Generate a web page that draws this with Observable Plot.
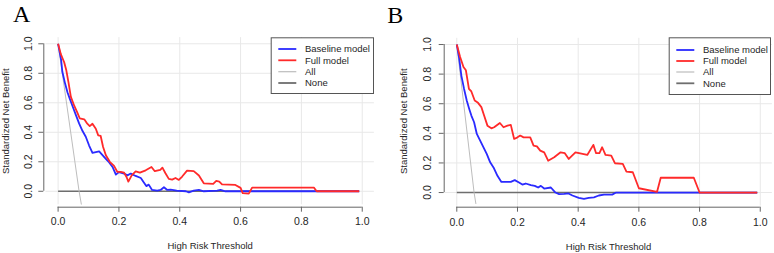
<!DOCTYPE html>
<html>
<head>
<meta charset="utf-8">
<script src="https://cdn.jsdelivr.net/npm/d3@7"></script>
<script src="https://cdn.jsdelivr.net/npm/@observablehq/plot@0.6"></script>
<style>
  html, body { margin: 0; padding: 0; background: #fff; }
  #wrap { position: relative; width: 774px; height: 253px; display: flex; }
  .panel { position: relative; width: 387px; height: 253px; }
  .panel svg { display: block; }
  #overlay { position: absolute; left: 0; top: 0; pointer-events: none; }
</style>
</head>
<body>
<div id="wrap">
  <div class="panel" id="panelA"></div>
  <div class="panel" id="panelB"></div>
  <svg id="overlay" width="774" height="253"></svg>
</div>
<script>
// Decision curves: standardized net benefit against the high-risk threshold.
const xTicks = [0, 0.2, 0.4, 0.6, 0.8, 1.0];
const yTicks = [0, 0.2, 0.4, 0.6, 0.8, 1.0];
const xTitle = "High Risk Threshold";
const yTitle = "Standardized Net Benefit";
const seriesNames = ["Baseline model", "Full model", "All", "None"];
const panelTags = ["A", "B"];

// Panel A
const thresholdA_baseline = [0, 0.01, 0.014, 0.023, 0.031, 0.038, 0.047, 0.058, 0.069, 0.08, 0.091, 0.102, 0.113, 0.124, 0.135, 0.146, 0.157, 0.168, 0.179, 0.19, 0.2, 0.217, 0.228, 0.239, 0.255, 0.272, 0.282, 0.29, 0.298, 0.309, 0.326, 0.337, 0.348, 0.359, 0.37, 0.39, 0.42, 0.43, 0.446, 0.463, 0.479, 0.523, 0.534, 0.55, 0.99];
const benefitA_baseline   = [1, 0.89, 0.81, 0.73, 0.67, 0.63, 0.58, 0.52, 0.46, 0.41, 0.37, 0.31, 0.26, 0.265, 0.27, 0.245, 0.22, 0.195, 0.165, 0.113, 0.13, 0.12, 0.108, 0.12, 0.104, 0.09, 0.06, 0.035, 0.045, 0.009, 0.005, 0.009, 0.027, 0.009, 0.011, 0.005, 0, -0.007, 0.005, 0.009, 0, 0.005, 0.009, 0, 0];
const thresholdA_full = [0, 0.009, 0.02, 0.027, 0.034, 0.042, 0.053, 0.064, 0.071, 0.086, 0.096, 0.104, 0.113, 0.124, 0.132, 0.14, 0.148, 0.157, 0.17, 0.184, 0.195, 0.206, 0.217, 0.225, 0.231, 0.242, 0.255, 0.269, 0.288, 0.307, 0.318, 0.336, 0.343, 0.353, 0.364, 0.375, 0.386, 0.397, 0.408, 0.424, 0.446, 0.463, 0.479, 0.51, 0.52, 0.53, 0.539, 0.583, 0.6, 0.607, 0.627, 0.638, 0.841, 0.85, 0.99];
const benefitA_full   = [1, 0.93, 0.875, 0.82, 0.74, 0.64, 0.58, 0.53, 0.495, 0.488, 0.458, 0.442, 0.458, 0.424, 0.379, 0.375, 0.3, 0.244, 0.2, 0.172, 0.131, 0.131, 0.126, 0.097, 0.065, 0.108, 0.135, 0.126, 0.142, 0.165, 0.136, 0.145, 0.16, 0.122, 0.084, 0.079, 0.09, 0.077, 0.1, 0.14, 0.137, 0.107, 0.054, 0.05, 0.07, 0.066, 0.047, 0.043, 0.023, -0.012, -0.016, 0.025, 0.025, 0, 0];
const thresholdA_all = [0, 0.069, 0.0766];
const benefitA_all   = [1, 0, -0.09];
const thresholdA_none = [0, 0.99];
const benefitA_none   = [0, 0];

// Panel B
const thresholdB_baseline = [0, 0.008, 0.015, 0.024, 0.033, 0.041, 0.048, 0.057, 0.066, 0.077, 0.088, 0.099, 0.11, 0.121, 0.134, 0.147, 0.162, 0.178, 0.191, 0.205, 0.216, 0.227, 0.244, 0.257, 0.268, 0.277, 0.288, 0.31, 0.325, 0.337, 0.354, 0.368, 0.381, 0.402, 0.419, 0.435, 0.452, 0.468, 0.485, 0.512, 0.525, 0.99];
const benefitB_baseline   = [1, 0.905, 0.79, 0.7, 0.62, 0.565, 0.52, 0.475, 0.396, 0.351, 0.305, 0.26, 0.204, 0.17, 0.113, 0.072, 0.072, 0.072, 0.084, 0.068, 0.054, 0.061, 0.05, 0.045, 0.034, 0.045, 0.027, 0.034, 0, -0.011, -0.009, -0.006, -0.02, -0.036, -0.043, -0.036, -0.032, -0.02, -0.014, -0.014, 0, 0];
const thresholdB_full = [0, 0.011, 0.022, 0.03, 0.04, 0.048, 0.059, 0.07, 0.081, 0.09, 0.101, 0.114, 0.123, 0.142, 0.154, 0.167, 0.178, 0.189, 0.2, 0.209, 0.22, 0.242, 0.253, 0.264, 0.275, 0.288, 0.301, 0.321, 0.342, 0.356, 0.369, 0.391, 0.43, 0.45, 0.459, 0.47, 0.479, 0.49, 0.509, 0.521, 0.547, 0.559, 0.58, 0.6, 0.66, 0.672, 0.781, 0.8, 0.99];
const benefitB_full   = [1, 0.916, 0.848, 0.826, 0.701, 0.683, 0.622, 0.606, 0.577, 0.52, 0.452, 0.434, 0.441, 0.47, 0.441, 0.452, 0.457, 0.362, 0.373, 0.385, 0.373, 0.373, 0.317, 0.312, 0.283, 0.271, 0.215, 0.238, 0.272, 0.266, 0.227, 0.272, 0.254, 0.322, 0.266, 0.266, 0.306, 0.254, 0.25, 0.198, 0.194, 0.142, 0.137, 0.029, 0.005, 0.1, 0.1, 0, 0];
const thresholdB_all = [0, 0.057, 0.063];
const benefitB_all   = [1, 0, -0.077];
const thresholdB_none = [0, 0.99];
const benefitB_none   = [0, 0];

// Styling
const colors = { baseline: "#2a2aff", full: "#ff2a2a", all: "#bdbdbd", none: "#6e6e6e" };
const widths = { baseline: 1.8, full: 1.8, all: 1, none: 1.5 };
const gridColor = "#e8e8e8";
const axisColor = "#666";
const textColor = "#262626";
const font = "'Liberation Sans', Arial, sans-serif";
const plotRegionX = [-0.04, 1.04];
const plotRegionY = [-0.092, 1.042];

const zip = (xs, ys) => xs.map((t, i) => ({ t, nb: ys[i] }));

function drawPanel(p) {
  const line = (xs, ys, key) => Plot.line(zip(xs, ys), {
    x: "t", y: "nb", stroke: colors[key], strokeWidth: widths[key],
    strokeLinejoin: "round", strokeLinecap: "butt"
  });
  return Plot.plot({
    width: 387,
    height: 253,
    marginLeft: p.marginLeft,
    marginRight: p.marginRight,
    marginTop: p.marginTop,
    marginBottom: p.marginBottom,
    x: { type: "linear", domain: p.xDomain },
    y: { type: "linear", domain: p.yDomain },
    style: { fontFamily: font, background: "#fff", overflow: "visible", color: textColor },
    marks: [
      // light background grid over the plotting region
      Plot.ruleX(xTicks, { x: d => d, y1: plotRegionY[0], y2: plotRegionY[1], stroke: gridColor, strokeWidth: 1 }),
      Plot.ruleY(yTicks, { y: d => d, x1: plotRegionX[0], x2: plotRegionX[1], stroke: gridColor, strokeWidth: 1 }),
      // axis lines spanning first to last tick
      Plot.ruleY([p.yDomain[0]], { x1: xTicks[0], x2: xTicks[xTicks.length - 1], stroke: axisColor }),
      Plot.ruleX([p.xDomain[0]], { y1: yTicks[0], y2: yTicks[yTicks.length - 1], stroke: axisColor }),
      Plot.axisX(xTicks, { tickSize: 5, stroke: axisColor, fill: "none", label: null }),
      Plot.axisY(yTicks, { tickSize: 5, stroke: axisColor, fill: "none", label: null }),
      // tick labels
      Plot.text(xTicks, {
        x: d => d, y: p.yDomain[0], dy: p.xLabelDy, text: d => d.toFixed(1),
        fontSize: 10.5, fill: textColor, lineAnchor: "middle"
      }),
      Plot.text(yTicks, {
        x: p.xDomain[0], y: d => d, dx: p.yLabelDx, rotate: -90, text: d => d.toFixed(1),
        fontSize: 10.5, fill: textColor, lineAnchor: "middle"
      }),
      // axis titles
      Plot.text([xTitle], {
        x: 0.5, y: p.yDomain[0], dy: p.xTitleDy, text: d => d,
        fontSize: 9.5, fill: textColor, lineAnchor: "middle"
      }),
      Plot.text([yTitle], {
        x: p.xDomain[0], y: p.yTitleAt, dx: p.yTitleDx, rotate: -90, text: d => d,
        fontSize: 9.5, fill: textColor, lineAnchor: "middle"
      }),
      // curves
      line(p.none[0], p.none[1], "none"),
      line(p.all[0], p.all[1], "all"),
      line(p.baseline[0], p.baseline[1], "baseline"),
      line(p.full[0], p.full[1], "full")
    ]
  });
}

document.getElementById("panelA").append(drawPanel({
  marginLeft: 43.3, marginRight: 13.1, marginTop: 37.1, marginBottom: 46.3,
  xDomain: [-0.047, 1.04], yDomain: [-0.108, 1.042],
  xLabelDy: 14.2, yLabelDx: -15, xTitleDy: 38.3, yTitleDx: -38.3, yTitleAt: 0.475,
  baseline: [thresholdA_baseline, benefitA_baseline],
  full: [thresholdA_full, benefitA_full],
  all: [thresholdA_all, benefitA_all],
  none: [thresholdA_none, benefitA_none]
}));

document.getElementById("panelB").append(drawPanel({
  marginLeft: 56.7, marginRight: 2.1, marginTop: 37.8, marginBottom: 46.3,
  xDomain: [-0.0415, 1.04], yDomain: [-0.099, 1.042],
  xLabelDy: 15, yLabelDx: -16.7, xTitleDy: 39.3, yTitleDx: -40, yTitleAt: 0.482,
  baseline: [thresholdB_baseline, benefitB_baseline],
  full: [thresholdB_full, benefitB_full],
  all: [thresholdB_all, benefitB_all],
  none: [thresholdB_none, benefitB_none]
}));

// Panel tags and legends
const overlay = d3.select("#overlay");
const tagPos = [[13, 22], [387.3, 22.5]];
panelTags.forEach((tag, i) => {
  overlay.append("text")
    .attr("x", tagPos[i][0]).attr("y", tagPos[i][1])
    .attr("font-family", "'Liberation Serif', 'DejaVu Serif', serif")
    .attr("font-size", 24).attr("fill", "#000")
    .text(tag);
});

const legendKeys = ["baseline", "full", "all", "none"];
const legendBoxes = [
  { x: 270.7, y: 37.3, w: 103.3, h: 56.7, rows: [11.7, 23, 34.4, 45.7] },
  { x: 668.7, y: 37.3, w: 102.3, h: 57.7, rows: [12.7, 23.7, 34.7, 46] }
];
legendBoxes.forEach(b => {
  const g = overlay.append("g").attr("transform", `translate(${b.x},${b.y})`);
  g.append("rect").attr("x", 0.5).attr("y", 0.5).attr("width", b.w - 1).attr("height", b.h - 1)
    .attr("fill", "#fff").attr("stroke", "#555").attr("stroke-width", 1);
  legendKeys.forEach((k, i) => {
    g.append("line").attr("x1", 7.6).attr("x2", 25.6).attr("y1", b.rows[i]).attr("y2", b.rows[i])
      .attr("stroke", colors[k]).attr("stroke-width", k === "all" ? 1.2 : 1.8);
    g.append("text").attr("x", 34.3).attr("y", b.rows[i]).attr("dy", "0.35em")
      .attr("font-family", font).attr("font-size", 9.5).attr("fill", textColor)
      .text(seriesNames[i]);
  });
});
</script>
</body>
</html>
